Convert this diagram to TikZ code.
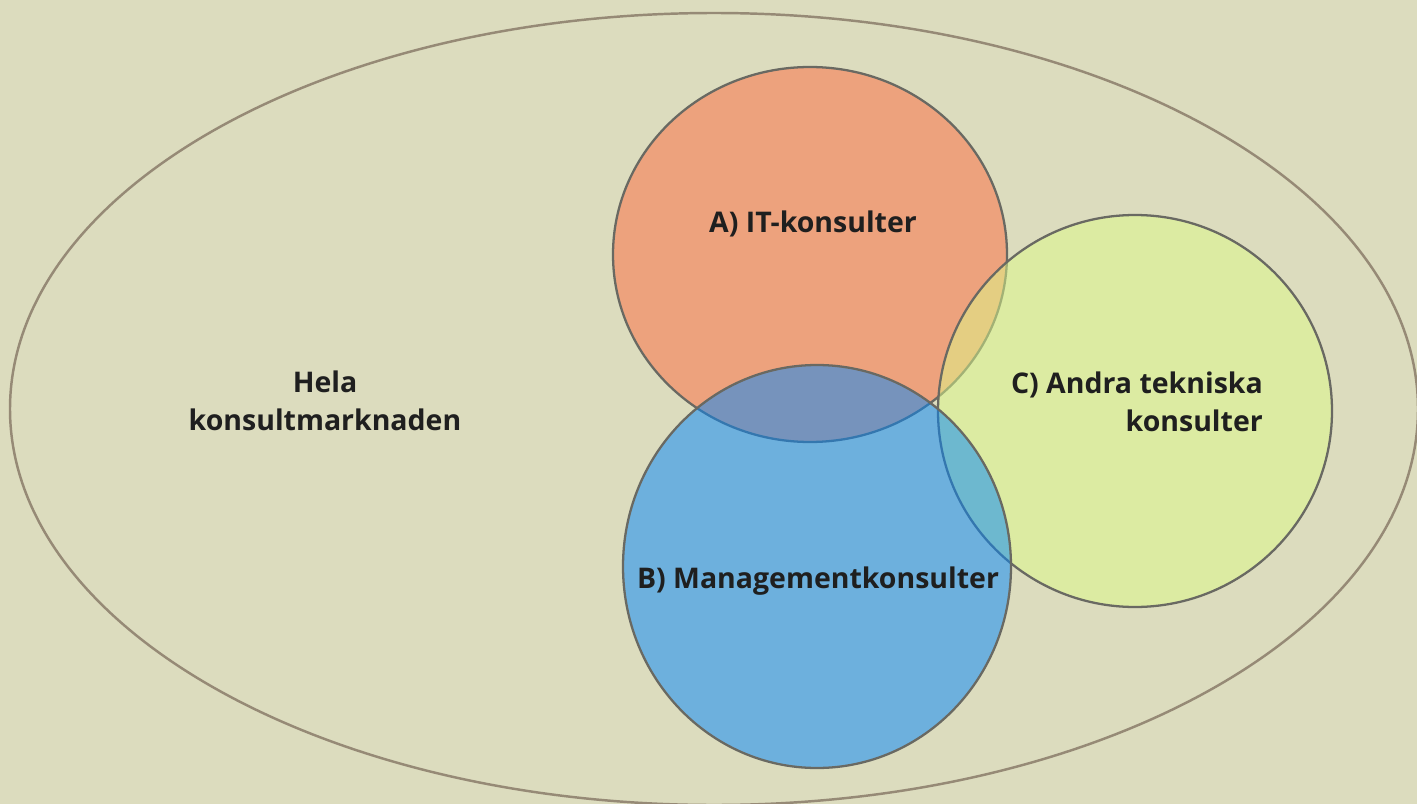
\documentclass[tikz,border=0pt]{standalone}
\usepackage{fontspec}
\setmainfont{Open Sans}
\usepackage{tikz}
\definecolor{bakgrund}{RGB}{220,220,190}
\definecolor{ramlinje}{RGB}{150,138,118}
\definecolor{kantlinje}{RGB}{105,105,98}
\definecolor{itfarg}{RGB}{254,106,62}
\definecolor{mgmtfarg}{RGB}{0,134,252}
\definecolor{teknfarg}{RGB}{220,250,136}

\begin{document}
\begin{tikzpicture}[etikett/.style={font=\fontsize{16.2}{21.5}\selectfont\bfseries,text=black!88}]
				\useasboundingbox (0,0) rectangle (28.34,-16.08);
				\fill[bakgrund] (0,0) rectangle (28.34,-16.08);
				\draw[ramlinje,line width=1.4pt] (14.28,-8.18) ellipse (14.08 and 7.92);
				\draw[kantlinje,line width=1.3pt,fill=itfarg,fill opacity=0.5] (16.2,-5.09) ellipse (3.94 and 3.75);
				\draw[kantlinje,line width=1.3pt,fill=teknfarg,fill opacity=0.5] (22.7,-8.22) ellipse (3.94 and 3.92);
				\draw[kantlinje,line width=1.3pt,fill=mgmtfarg,fill opacity=0.5] (16.34,-11.33) ellipse (3.88 and 4.03);
				\node[etikett,align=center] (hela) at (6.5,-8.02) {Hela\\konsultmarknaden};
				\node[etikett] (it) at (16.26,-4.47) {A) IT-konsulter};
				\node[etikett] (mgmt) at (16.36,-11.62) {B) Managementkonsulter};
				\node[etikett,align=right,anchor=east] (tekn) at (25.38,-8.04) {C) Andra tekniska\\konsulter};
			\end{tikzpicture}
\end{document}
